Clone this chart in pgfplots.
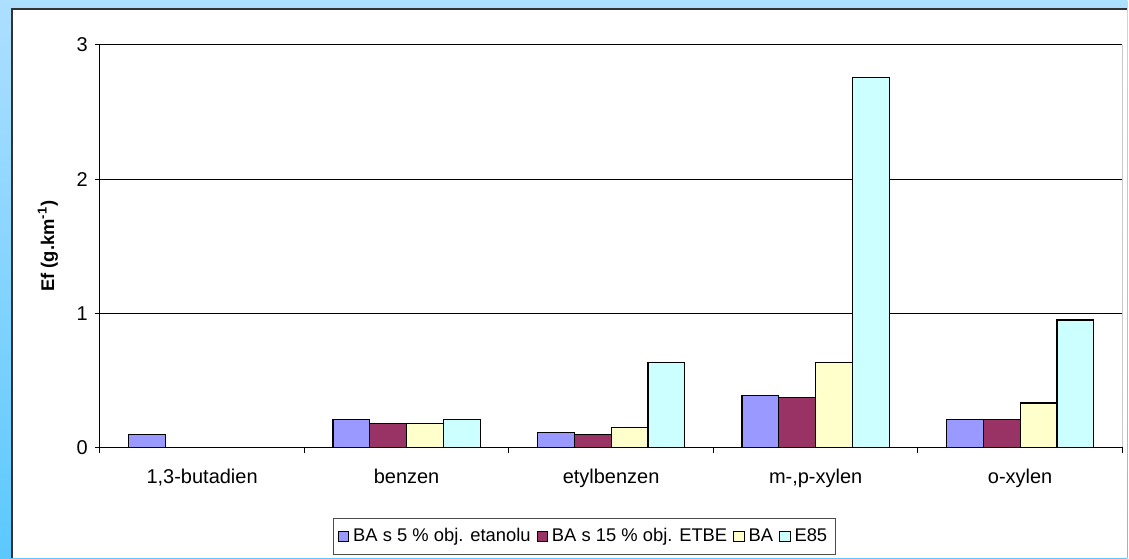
\documentclass[border=0pt]{standalone}
\usepackage{fontspec}
\setmainfont{Liberation Sans}
\usepackage{pgfplots}
\pgfplotsset{compat=1.18}
\definecolor{cBlue}{HTML}{9999FF}
\definecolor{cMaroon}{HTML}{993366}
\definecolor{cYellow}{HTML}{FFFFCC}
\definecolor{cCyan}{HTML}{CCFFFF}
\definecolor{frameTop}{HTML}{ADDFFF}
\definecolor{frameBot}{HTML}{5CC8FF}
\begin{document}
\begin{tikzpicture}
\begin{scope}[x=0.5pt,y=0.5pt]
\useasboundingbox (0,0) rectangle (1129,559);
\shade[top color=frameTop,bottom color=frameBot] (0,0) rectangle (1129,559);
\fill[white] (12,0) rectangle (1129,550);
\draw[line width=0.8pt, color=black!80] (12,0) -- (12,550) -- (1129,550);
\end{scope}
\begin{axis}[
  at={(50pt,55.5pt)}, anchor=south west,
  scale only axis, width=512pt, height=201.5pt,
  font=\fontsize{9.2}{11}\selectfont,
  tick label style={font=\fontsize{10}{12}\selectfont},
  ybar=0pt, bar width=0.18,
  xmin=-0.5, xmax=4.5, ymin=0, ymax=3,
  ytick={0,1,2,3},
  ymajorgrids, grid style={black, line width=0.5pt},
  axis x line*=bottom, axis y line*=left,
  axis line style={-, black, line width=0.6pt},
  tick align=outside, major tick length=2.5pt,
  tick style={black, line width=0.5pt},
  xtick={0,1,2,3,4},
  xticklabels={{1,3-butadien},benzen,etylbenzen,{m-,p-xylen},o-xylen},
  xticklabel style={yshift=-5pt},
  major x tick style={draw=none},
  extra x ticks={-0.5,0.5,1.5,2.5,3.5,4.5},
  extra x tick labels={},
  extra x tick style={grid=none, major x tick style={draw=black, line width=0.5pt}, major tick length=3pt},
  /pgf/number format/assume math mode=true,
  ylabel={\bfseries Ef (g.km\textsuperscript{-1})},
  ylabel style={at={(rel axis cs:-0.0508,0.5)}, anchor=center},
  legend style={at={(0.474,-0.221)}, anchor=center, legend columns=4,
    draw=black!70, line width=0.5pt, font=\fontsize{9.2}{11}\selectfont,
    inner xsep=2pt, inner ysep=3pt,
    /tikz/every even column/.append style={column sep=1pt}},
  every axis plot/.append style={draw=black, line width=0.6pt,
    legend image code/.code={\draw[#1, line width=0.5pt] (0pt,-2.6pt) rectangle (5.2pt,2.6pt);}},
]
\addplot[fill=cBlue] coordinates {(0,0.097) (1,0.205) (2,0.11) (3,0.385) (4,0.205)};
\addlegendentry{BA s 5 \% obj. etanolu}
\addplot[fill=cMaroon] coordinates {(1,0.18) (2,0.095) (3,0.37) (4,0.205)};
\addlegendentry{BA s 15 \% obj. ETBE}
\addplot[fill=cYellow] coordinates {(1,0.18) (2,0.15) (3,0.633) (4,0.33)};
\addlegendentry{BA}
\addplot[fill=cCyan] coordinates {(1,0.205) (2,0.633) (3,2.755) (4,0.95)};
\addlegendentry{E85}
\draw[black!60, line width=0.6pt] (rel axis cs:1,0) -- (rel axis cs:1,1);
\end{axis}
\end{tikzpicture}
\end{document}
